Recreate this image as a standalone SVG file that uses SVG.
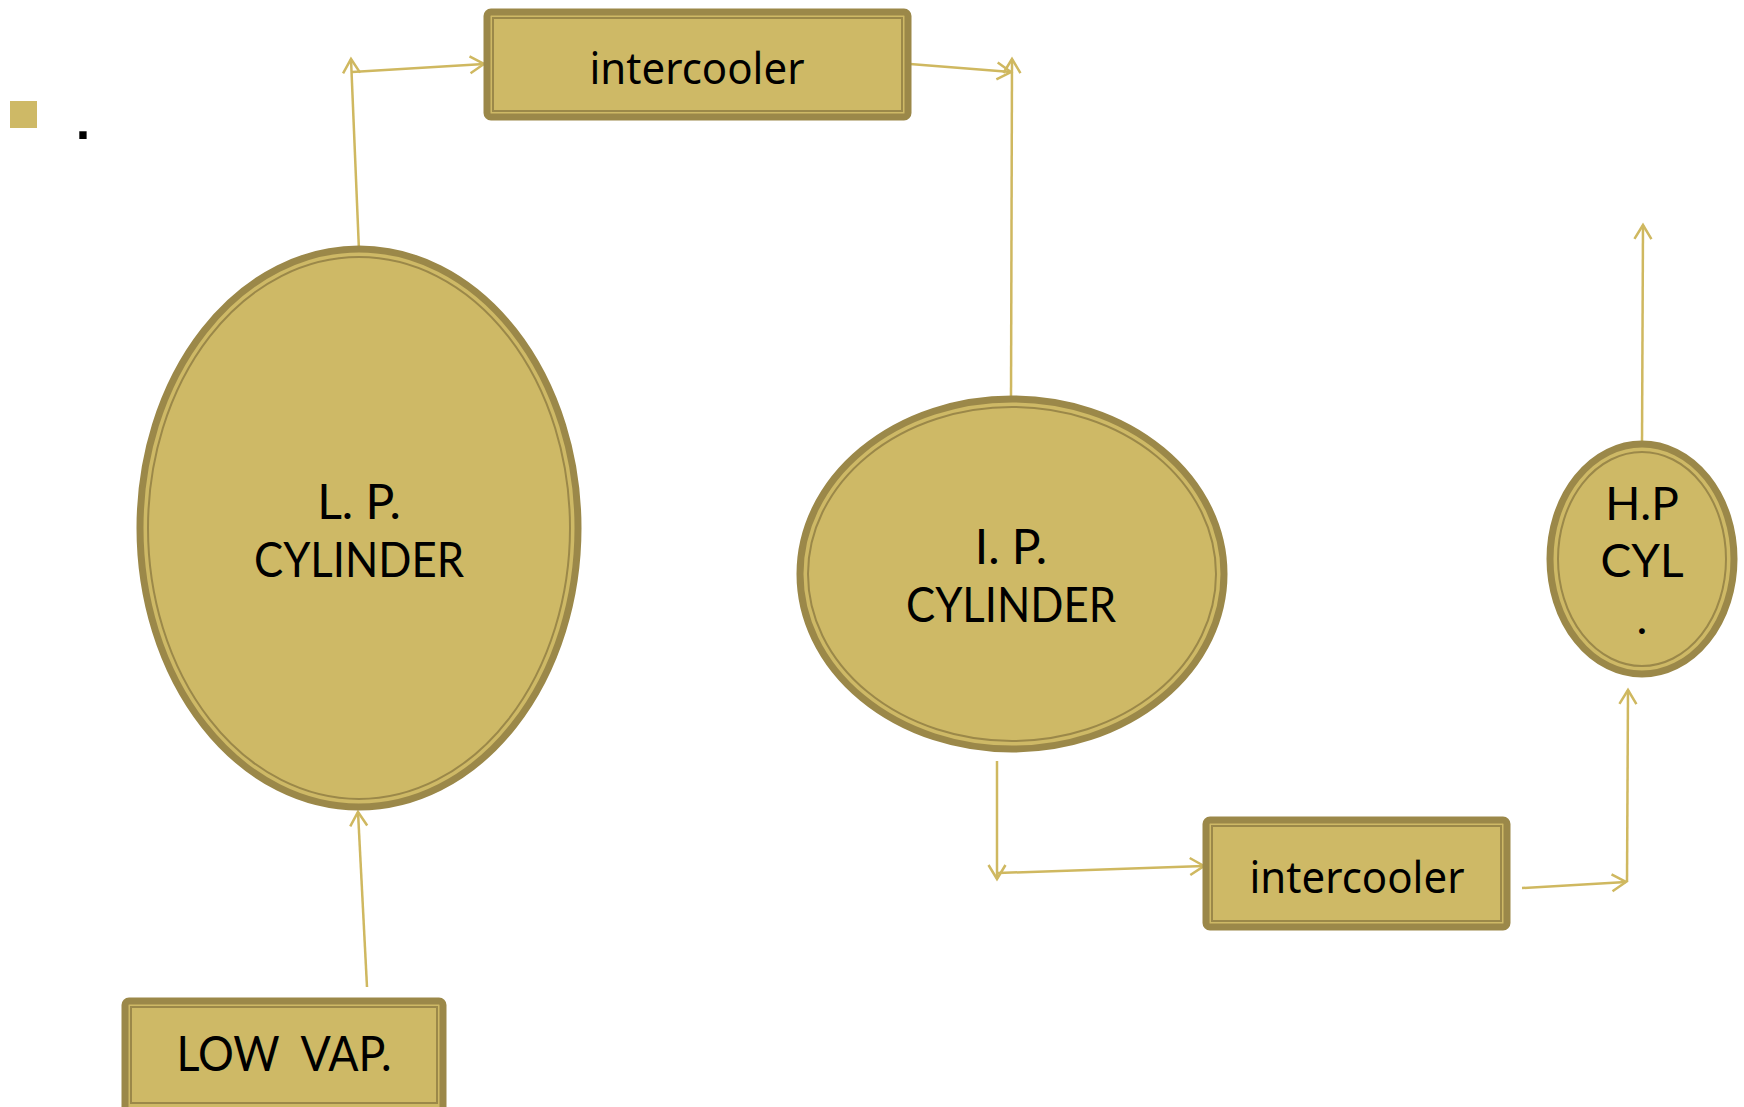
<svg xmlns="http://www.w3.org/2000/svg" width="1744" height="1107" viewBox="0 0 1744 1107">
<style>
.fill{fill:#ceb966}
.outer{fill:#ceb966;stroke:#9b8849;stroke-width:7}
.inner{fill:none;stroke:#9b8849;stroke-width:2}
.lbl{font-family:Lato,"Noto Sans",sans-serif;fill:#000;text-anchor:middle;white-space:pre}
.ic{font-family:"Noto Sans","Open Sans",sans-serif;fill:#000;text-anchor:middle}
.conn{stroke:#cfb860;stroke-width:2.5;fill:none}
</style>
<defs>
<marker id="arr" markerUnits="userSpaceOnUse" viewBox="-15 -10 18 20" markerWidth="18" markerHeight="20" refX="0" refY="0" orient="auto">
<path d="M-14,-8.5 L0,0 L-14,8.5" fill="none" stroke="#cfb860" stroke-width="2.5"/>
</marker>
</defs>
<rect x="10" y="101" width="27" height="27" class="fill"/>
<text x="83" y="139" font-family="'Liberation Sans',Arial,sans-serif" font-size="52" font-weight="bold" text-anchor="middle" fill="#000">.</text>

<g id="connectors">
<line class="conn" x1="367" y1="987" x2="358" y2="812" marker-end="url(#arr)"/>
<line class="conn" x1="359" y1="251" x2="351" y2="59" marker-end="url(#arr)"/>
<line class="conn" x1="352" y1="72" x2="484" y2="64" marker-end="url(#arr)"/>
<line class="conn" x1="910" y1="64" x2="1011" y2="72" marker-end="url(#arr)"/>
<line class="conn" x1="1011" y1="401" x2="1012" y2="59" marker-end="url(#arr)"/>
<line class="conn" x1="997" y1="761" x2="997" y2="879" marker-end="url(#arr)"/>
<line class="conn" x1="998" y1="873" x2="1204" y2="866" marker-end="url(#arr)"/>
<line class="conn" x1="1522" y1="888" x2="1626" y2="882" marker-end="url(#arr)"/>
<line class="conn" x1="1627" y1="882" x2="1628" y2="690" marker-end="url(#arr)"/>
<line class="conn" x1="1642" y1="445" x2="1643" y2="225" marker-end="url(#arr)"/>
</g>

<g id="intercooler-top">
<rect x="487" y="12" width="421" height="105" rx="4" class="outer"/>
<rect x="493" y="18" width="409" height="93" class="inner"/>
<text x="697" y="84" class="ic" font-size="44" textLength="215" lengthAdjust="spacingAndGlyphs">intercooler</text>
</g>

<g id="lp-cylinder">
<ellipse cx="359" cy="528" rx="219" ry="279" class="outer"/>
<ellipse cx="359" cy="528" rx="211" ry="271" class="inner"/>
<text x="359" y="519" class="lbl" font-size="48">L. P.</text>
<text x="359" y="577" class="lbl" font-size="48" textLength="210" lengthAdjust="spacingAndGlyphs">CYLINDER</text>
</g>

<g id="ip-cylinder">
<ellipse cx="1012" cy="574" rx="212" ry="175" class="outer"/>
<ellipse cx="1012" cy="574" rx="204" ry="167" class="inner"/>
<text x="1011" y="564" class="lbl" font-size="48">I. P.</text>
<text x="1011" y="622" class="lbl" font-size="48" textLength="210" lengthAdjust="spacingAndGlyphs">CYLINDER</text>
</g>

<g id="hp-cylinder">
<ellipse cx="1642" cy="559" rx="92" ry="115" class="outer"/>
<ellipse cx="1642" cy="559" rx="84" ry="107" class="inner"/>
<text x="1642" y="520" class="lbl" font-size="46">H.P</text>
<text x="1642" y="577" class="lbl" font-size="46">CYL</text>
<text x="1642" y="634" class="lbl" font-size="46">.</text>
</g>

<g id="intercooler-bottom">
<rect x="1206" y="820" width="301" height="107" rx="4" class="outer"/>
<rect x="1212" y="826" width="289" height="95" class="inner"/>
<text x="1357" y="893" class="ic" font-size="44" textLength="215" lengthAdjust="spacingAndGlyphs">intercooler</text>
</g>

<g id="low-vap">
<rect x="125" y="1001" width="318" height="115" rx="4" class="outer"/>
<rect x="131" y="1007" width="306" height="96" class="inner"/>
<text x="284" y="1071" class="lbl" font-size="48" textLength="215" lengthAdjust="spacingAndGlyphs">LOW  VAP.</text>
</g>
</svg>
